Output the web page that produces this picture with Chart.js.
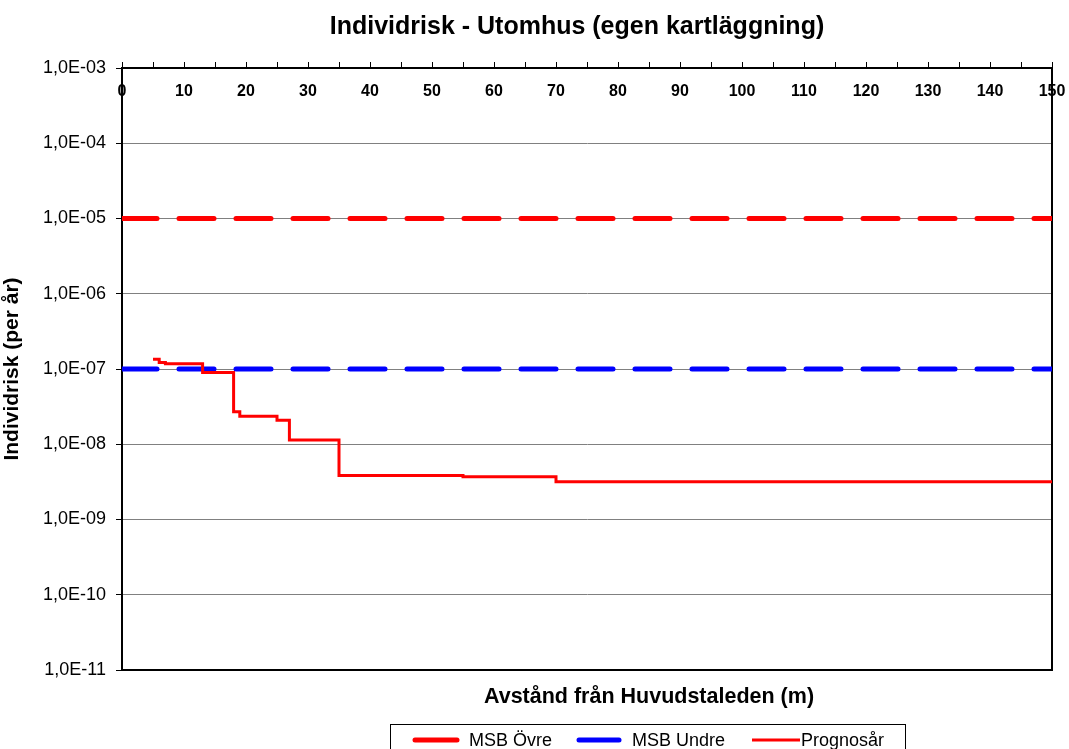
<!DOCTYPE html>
<html>
<head>
<meta charset="utf-8">
<script src="https://cdn.jsdelivr.net/npm/chart.js@4.4.1/dist/chart.umd.min.js"></script>
<style>
  body { margin: 0; background: #fff; }
  canvas { display: block; }
</style>
</head>
<body>
<canvas id="myChart" width="1069" height="749"></canvas>
<script>
// data
const limitX = [0, 150];
const msbOvre = [1e-5, 1e-5];
const msbUndre = [1e-7, 1e-7];
const progX = [5, 6, 7, 13, 18, 19, 25, 27, 35, 55, 70, 150];
const progY = [1.35e-7, 1.22e-7, 1.17e-7, 9.0e-8, 2.7e-8, 2.35e-8, 2.08e-8, 1.14e-8, 3.85e-9, 3.7e-9, 3.18e-9, 3.18e-9];
const yTicks = [1e-11, 1e-10, 1e-9, 1e-8, 1e-7, 1e-6, 1e-5, 1e-4, 1e-3];

const FONT = "'Liberation Sans', Arial, sans-serif";

function toPoints(xs, ys) {
  return xs.map((x, i) => ({ x: x, y: ys[i] }));
}

function fmtExp(v) {
  const e = Math.round(Math.log10(v));
  return "1,0E" + (e < 0 ? "-" : "+") + String(Math.abs(e)).padStart(2, "0");
}

// keep tick labels from pushing the plot edges in
function noSidePadding(scale) {
  scale.paddingLeft = 0;
  scale.paddingRight = 0;
}

const ctx = document.getElementById("myChart").getContext("2d");

const myChart = new Chart(ctx, {
  type: "line",
  data: {
    datasets: [
      {
        label: "MSB Övre",
        data: toPoints(limitX, msbOvre),
        borderColor: "#ff0000",
        borderWidth: 5,
        borderDash: [35, 22],
        borderCapStyle: "round",
        pointRadius: 0,
        order: 2,
      },
      {
        label: "MSB Undre",
        data: toPoints(limitX, msbUndre),
        borderColor: "#0000ff",
        borderWidth: 5,
        borderDash: [35, 22],
        borderCapStyle: "round",
        pointRadius: 0,
        order: 1,
      },
      {
        label: "Prognosår",
        data: toPoints(progX, progY),
        borderColor: "#ff0000",
        borderWidth: 3,
        stepped: true,
        pointRadius: 0,
        order: 0,
      },
    ],
  },
  options: {
    responsive: false,
    animation: false,
    devicePixelRatio: 1,
    layout: {
      padding: { top: 0, left: 0, right: 17, bottom: 79 },
    },
    plugins: {
      legend: { display: false },
      tooltip: { enabled: false },
      title: { display: false },
    },
    scales: {
      x: {
        type: "linear",
        position: { y: 1e-3 }, // labels hang under the top edge
        min: 0,
        max: 150,
        grid: { display: false },
        border: { display: false },
        ticks: {
          stepSize: 10,
          autoSkip: false,
          maxRotation: 0,
          padding: 6,
          color: "#000",
          font: { family: FONT, size: 16, weight: "bold" },
        },
        afterFit: noSidePadding,
      },
      xTop: {
        type: "linear",
        position: "top",
        min: 0,
        max: 150,
        grid: { drawOnChartArea: false, tickLength: 6, tickColor: "#000" },
        border: { color: "#000", width: 2 },
        ticks: { display: false, stepSize: 5 },
        afterFit(scale) {
          scale.height = 68;
          noSidePadding(scale);
        },
      },
      xB: {
        type: "linear",
        position: "bottom",
        grid: { display: false },
        border: { color: "#000", width: 2 },
        ticks: { display: false },
        afterFit(scale) {
          scale.height = 0;
          noSidePadding(scale);
        },
      },
      y: {
        type: "logarithmic",
        position: "left",
        min: 1e-11,
        max: 1e-3,
        afterBuildTicks(scale) {
          scale.ticks = yTicks.map((v) => ({ value: v }));
        },
        grid: { color: "#808080", lineWidth: 1, tickLength: 6, tickColor: "#000" },
        border: { color: "#000", width: 2 },
        ticks: {
          padding: 10,
          color: "#000",
          font: { family: FONT, size: 18 },
          callback: (v) => fmtExp(v),
        },
        title: {
          display: true,
          text: "Individrisk (per år)",
          color: "#000",
          padding: { top: 0, bottom: 0 },
          font: { family: FONT, size: 21, weight: "bold" },
        },
        afterFit(scale) {
          scale.width = 122;
        },
      },
      yR: {
        type: "linear",
        position: "right",
        grid: { display: false },
        border: { color: "#000", width: 2 },
        ticks: { display: false },
        afterFit(scale) {
          scale.width = 0;
        },
      },
    },
  },
  plugins: [
    {
      id: "textsAndLegend",
      afterDraw(chart) {
        const c = chart.ctx;
        c.save();
        c.fillStyle = "#000";
        c.textBaseline = "middle";
        c.textAlign = "center";

        // chart title
        c.font = "bold 25px " + FONT;
        c.fillText("Individrisk - Utomhus (egen kartläggning)", 577, 27);

        // x axis title
        c.font = "bold 21.5px " + FONT;
        c.fillText("Avstånd från Huvudstaleden (m)", 649, 697);

        // legend box
        c.strokeStyle = "#000";
        c.lineWidth = 1;
        c.strokeRect(390.5, 724.5, 515, 40);

        const lineX = [415, 579, 752];
        const lineLen = [42, 40, 48];
        const textX = [469, 632, 801];
        c.textAlign = "left";
        c.font = "18px " + FONT;
        chart.data.datasets.forEach((ds, i) => {
          const yMid = 740;
          c.beginPath();
          c.strokeStyle = ds.borderColor;
          c.lineWidth = ds.borderWidth;
          c.lineCap = ds.borderWidth > 3 ? "round" : "butt";
          c.moveTo(lineX[i], yMid);
          c.lineTo(lineX[i] + lineLen[i], yMid);
          c.stroke();
          c.fillStyle = "#000";
          c.fillText(ds.label, textX[i], yMid + 1);
        });
        c.restore();
      },
    },
  ],
});
</script>
</body>
</html>
